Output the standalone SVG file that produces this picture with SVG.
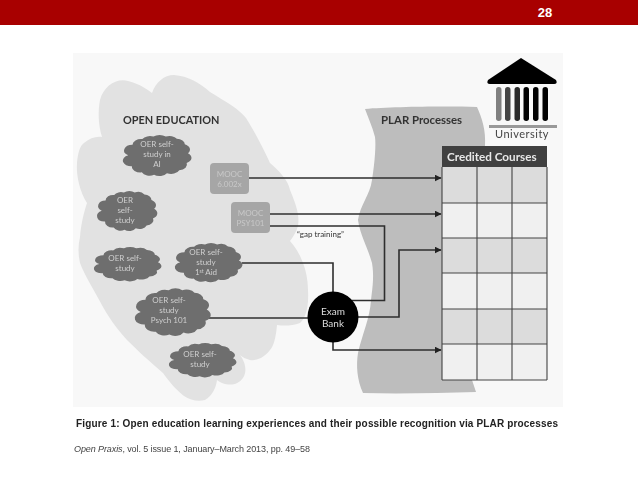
<svg xmlns="http://www.w3.org/2000/svg" xmlns:xlink="http://www.w3.org/1999/xlink" width="638" height="479" viewBox="0 0 638 479">
<defs>
<path id="cloud" d="M2 50A14 14 0 0 1 9 24A14 14 0 0 1 25 10A14 14 0 0 1 43 4A14 14 0 0 1 63 4A14 14 0 0 1 81 9A14 14 0 0 1 94 23A14 14 0 0 1 99 45A14 14 0 0 1 97 69A14 14 0 0 1 85 87A14 14 0 0 1 65 94A14 14 0 0 1 44 98A14 14 0 0 1 24 92A14 14 0 0 1 8 77A14 14 0 0 1 2 50Z"/>
<marker id="arrow" viewBox="0 0 6 6" refX="5.500" refY="3" markerWidth="7" markerHeight="7" markerUnits="userSpaceOnUse" orient="auto"><path d="M0 0L6 3L0 6Z" fill="#222"/></marker>
<filter id="soft" x="-5%" y="-5%" width="110%" height="110%"><feGaussianBlur stdDeviation="0.55"/></filter>
<style>
text{font-family:"Lato","Liberation Sans",sans-serif}
.cl{fill:#6e6e6e}
.ct{fill:#cfcfcf;font-size:8px;text-anchor:middle}
.box{fill:#a6a6a6}
.bt{fill:#c8c8c8;font-size:8px;text-anchor:middle}
.line{fill:none;stroke:#2e2e2e;stroke-width:1.6}
.grid{fill:none;stroke:#444;stroke-width:1.1}
.a{fill:#dcdcdc}
.b{fill:#f0f0f0}
.h{fill:#333;font-weight:700}
.col{fill:#000}
.cap{font-family:"Liberation Sans",Arial,sans-serif}
</style>
</defs>
<rect width="638" height="479" fill="#fff"/>
<rect id="top-bar" width="638" height="25" fill="#a80000"/>
<text x="545" y="17" text-anchor="middle" class="cap" font-size="13" font-weight="700" fill="#fff">28</text>
<g filter="url(#soft)">
<rect id="panel" x="73" y="53" width="490" height="354" fill="#f8f8f8"/>
<g id="open-education">
<path d="M100 100C104 86 116 78 128 81C140 84 148 90 152 93C156 82 164 75 174 75C188 76 200 83 210 92C226 102 238 108 246 118C256 134 264 150 270 163C280 172 288 180 290 190C296 204 300 216 298 226C296 233 292 238 290 241C300 252 308 270 308 290C309 306 306 318 300 323C292 326 284 326 277 325C276 336 274 346 270 350C264 358 256 361 250 360C246 359 242 357 240 355C246 363 247 372 243 378C238 385 230 386 222 383C220 382 218 381 217 380C216 388 212 396 205 400C198 402 190 400 184 396C176 390 168 380 163 373C150 362 137 350 127 340C116 328 108 316 103 307C94 290 85 276 80 263C78 254 78 246 80 237C81 224 84 212 87 203C80 192 76 176 77 163C78 152 80 146 84 143C90 138 96 136 102 137C98 124 98 110 100 100Z" fill="#e2e2e2"/>
<text x="123" y="124" class="h" font-size="10.900">OPEN EDUCATION</text>
</g>
<g id="plar">
<path d="M365 109C390 107 440 106 477 107C482 118 486 130 485 146L485 380L472 380L476 392C440 393 400 394 363 393C357 380 356 365 358 353C362 335 370 318 371 300C373 285 374 275 372 263C368 248 360 235 358 220C360 205 370 195 372 180C375 160 376 145 375 137C372 126 368 117 365 109Z" fill="#bdbdbd"/>
<text x="381" y="124" class="h" font-size="11.400">PLAR Processes</text>
</g>
<g id="university">
<path d="M521 58L556 80Q558 84 554 84L490 84Q486 84 488 80Z" fill="#000"/>
<rect x="496" y="87" width="5.500" height="34" rx="2.700" fill="#808080"/>
<rect x="505" y="87" width="5.500" height="34" rx="2.700" fill="#444"/>
<rect x="514.500" y="87" width="5.500" height="34" rx="2.700" fill="#2a2a2a"/>
<rect x="523.500" y="87" width="5.500" height="34" rx="2.700" class="col"/>
<rect x="533" y="87" width="5.500" height="34" rx="2.700" class="col"/>
<rect x="542.500" y="87" width="5.500" height="34" rx="2.700" class="col"/>
<rect x="489" y="125" width="68" height="3" fill="#999"/>
<text x="522" y="138" text-anchor="middle" font-size="11" letter-spacing=".5" fill="#444">University</text>
</g>
<g id="credited-courses">
<rect x="442" y="146" width="105" height="21" fill="#404040"/>
<text x="447" y="161" font-size="11.700" font-weight="700" fill="#e8e8e8">Credited Courses</text>
<rect class="a" x="442" y="167" width="105" height="36"/>
<rect class="b" x="442" y="203" width="105" height="35"/>
<rect class="a" x="442" y="238" width="105" height="35"/>
<rect class="b" x="442" y="273" width="105" height="36"/>
<rect class="a" x="442" y="309" width="105" height="35"/>
<rect class="b" x="442" y="344" width="105" height="36"/>
<path class="grid" d="M442 167V380M477 167V380M512 167V380M547 167V380M442 203H547M442 238H547M442 273H547M442 309H547M442 344H547M442 380H547"/>
</g>
<g id="connectors">
<path class="line" d="M249 178H441" marker-end="url(#arrow)"/>
<path class="line" d="M270 214H441" marker-end="url(#arrow)"/>
<path class="line" d="M270 226H384.500V300.500H352"/>
<path class="line" d="M242 263H333V293"/>
<path class="line" d="M207 318H308"/>
<path class="line" d="M358 317H399V250H441" marker-end="url(#arrow)"/>
<path class="line" d="M333 342V350H441" marker-end="url(#arrow)"/>
<text x="297" y="237" font-size="8" fill="#333">“gap training”</text>
</g>
<g id="oer-ai"><use href="#cloud" class="cl" transform="translate(127 135) scale(.615 .406)"/><text class="ct" x="157" y="147">OER self-</text><text class="ct" x="157" y="157">study in</text><text class="ct" x="157" y="167">AI</text></g>
<g id="oer-2"><use href="#cloud" class="cl" transform="translate(100.700 191) scale(.54 .396)"/><text class="ct" x="125" y="203">OER</text><text class="ct" x="125" y="213">self-</text><text class="ct" x="125" y="223">study</text></g>
<g id="oer-3"><use href="#cloud" class="cl" transform="translate(98 247) scale(.605 .34)"/><text class="ct" x="125" y="261">OER self-</text><text class="ct" x="125" y="271">study</text></g>
<g id="oer-aid"><use href="#cloud" class="cl" transform="translate(179 243) scale(.605 .387)"/><text class="ct" x="206" y="255">OER self-</text><text class="ct" x="206" y="265">study</text><text class="ct" x="206" y="275">1<tspan font-size="5" dy="-2.500">st</tspan><tspan dy="2.500"> Aid</tspan></text></g>
<g id="oer-psych"><use href="#cloud" class="cl" transform="translate(139.400 288.400) scale(.68 .47)"/><text class="ct" x="169" y="303">OER self-</text><text class="ct" x="169" y="313">study</text><text class="ct" x="169" y="323">Psych 101</text></g>
<g id="oer-6"><use href="#cloud" class="cl" transform="translate(173 343) scale(.605 .34)"/><text class="ct" x="200" y="357">OER self-</text><text class="ct" x="200" y="367">study</text></g>
<g id="mooc-1"><rect class="box" x="210" y="163" width="39" height="31" rx="4"/><text class="bt" x="229.500" y="177">MOOC</text><text class="bt" x="229.500" y="187">6.002x</text></g>
<g id="mooc-2"><rect class="box" x="231" y="202" width="39" height="31" rx="4"/><text class="bt" x="250.500" y="216">MOOC</text><text class="bt" x="250.500" y="226">PSY101</text></g>
<g id="exam-bank"><circle cx="333" cy="317" r="25.500" fill="#000"/><text x="333" y="315" text-anchor="middle" font-size="10" fill="#ddd">Exam</text><text x="333" y="327" text-anchor="middle" font-size="10" fill="#ddd">Bank</text></g>
<text x="76" y="427" class="cap" font-size="10" font-weight="700" fill="#222" textLength="482">Figure 1: Open education learning experiences and their possible recognition via PLAR processes</text>
<text x="74" y="452" class="cap" font-size="9" fill="#444" textLength="236"><tspan font-style="italic">Open Praxis</tspan>, vol. 5 issue 1, January–March 2013, pp. 49–58</text>
</g>
</svg>
